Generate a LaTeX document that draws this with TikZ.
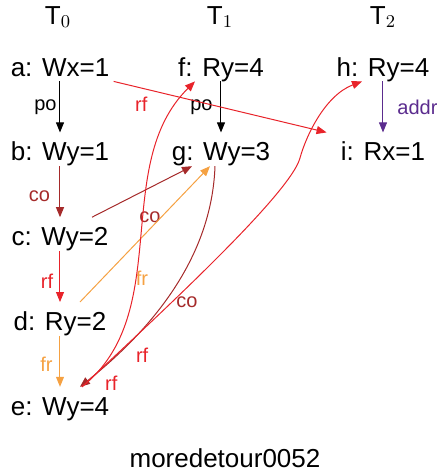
\documentclass[tikz,border=0pt]{standalone}
\usepackage{fontspec}
\setmainfont{Liberation Sans}
\usepackage{tikz}
\usetikzlibrary{positioning,arrows.meta}
\definecolor{rfcol}{HTML}{E8232A}
\definecolor{cocol}{HTML}{A52A2A}
\definecolor{frcol}{HTML}{F5A142}
\definecolor{addrcol}{HTML}{5B2C8E}

\begin{document}
\begin{tikzpicture}[
  x=0.5pt, y=-0.5pt,
  event/.style={
    font=\fontsize{13}{15}\selectfont, anchor=base,
    text height=14pt, text depth=2.5pt, inner xsep=2pt, inner ysep=0pt,
  },
  thread/.style={font=\fontsize{13}{15}\selectfont, anchor=base, inner sep=0pt},
  lbl/.style={font=\fontsize{10}{12}\selectfont, inner sep=0pt},
  rel/.style={-{Triangle[length=5pt,width=4pt]}, line width=0.5pt},
  po/.style={rel, black},
  rf/.style={rel, rfcol},
  co/.style={rel, cocol},
  fr/.style={rel, frcol},
  addr/.style={rel, addrcol},
]
  \useasboundingbox (0,0) rectangle (437,473);

  % Thread headers
  \node[thread] (t0) at (58,24)  {T$_0$};
  \node[thread] (t1) at (220,24) {T$_1$};
  \node[thread] (t2) at (383,24) {T$_2$};

  % Thread 0 (stacked, on the left)
  \node[event] (a) at (60,76) {a: Wx=1};
  \node[event, below=25.5pt of a] (b) {b: Wy=1};
  \node[event, below=25.5pt of b] (c) {c: Wy=2};
  \node[event, below=25.5pt of c] (d) {d: Ry=2};
  \node[event, below=25.5pt of d] (e) {e: Wy=4};

  % Thread 1 and thread 2
  \node[event] (f) at (221,76) {f: Ry=4};
  \node[event, below=25.5pt of f] (g) {g: Wy=3};
  \node[event] (h) at (383,76) {h: Ry=4};
  \node[event, below=25.5pt of h] (i) {i: Rx=1};

  % Test name
  \node[font=\fontsize{13}{15}\selectfont, anchor=base] (name) at (225,467) {moredetour0052};

  % program order / dependencies
  \draw[po] (a) -- node[lbl, left=1.5pt]{po} (b);
  \draw[po] (f) -- node[lbl, left=4pt]{po} (g);
  \draw[addr] (h) -- node[lbl, right=7pt]{addr} (i);

  % relations inside T0
  \draw[co] (b) -- node[lbl, left=4.75pt, yshift=-2.5pt]{co} (c);
  \draw[rf] (c) -- node[lbl, left=3.2pt, yshift=-2.5pt]{rf} (d);
  \draw[fr] (d) -- node[lbl, left=3.5pt, yshift=-1.5pt]{fr} (e);

  % straight relations across threads
  \draw[rf] (a.south east) -- node[lbl, pos=.13, yshift=-8pt]{rf} ([xshift=-5pt]i.north west);
  \draw[co] ([xshift=16pt]c.north) -- node[lbl, pos=.58, yshift=-15pt]{co} ([xshift=-14.5pt]g.south);
  \draw[fr] ([xshift=10pt]d.north) -- node[lbl, pos=.2, xshift=18pt, yshift=-1.7pt]{fr} ([xshift=-5.5pt]g.south);

  % curved relations into / out of e
  \draw[co] ([xshift=-3pt]g.south) .. controls +(-3,85) and +(80,-64) ..
    ([xshift=10pt]e.north) node[lbl, pos=.5, xshift=5.3pt, yshift=-9pt]{co};
  \draw[rf] ([xshift=11pt]e.north) .. controls +(93,-74) and +(-85,84) ..
    ([xshift=-13pt]f.south) node[lbl, pos=.05, xshift=8.2pt, yshift=-3.9pt]{rf};
  \coordinate (bend) at (300,158);
  \draw[rf] ([xshift=11pt]e.north) .. controls +(68,-64) and +(-10,37) ..
    (bend) node[lbl, pos=.15, xshift=12.7pt, yshift=-0.75pt]{rf}
    .. controls +(6,-22) and +(-37,14) .. ([xshift=-10.5pt]h.south);
\end{tikzpicture}
\end{document}
